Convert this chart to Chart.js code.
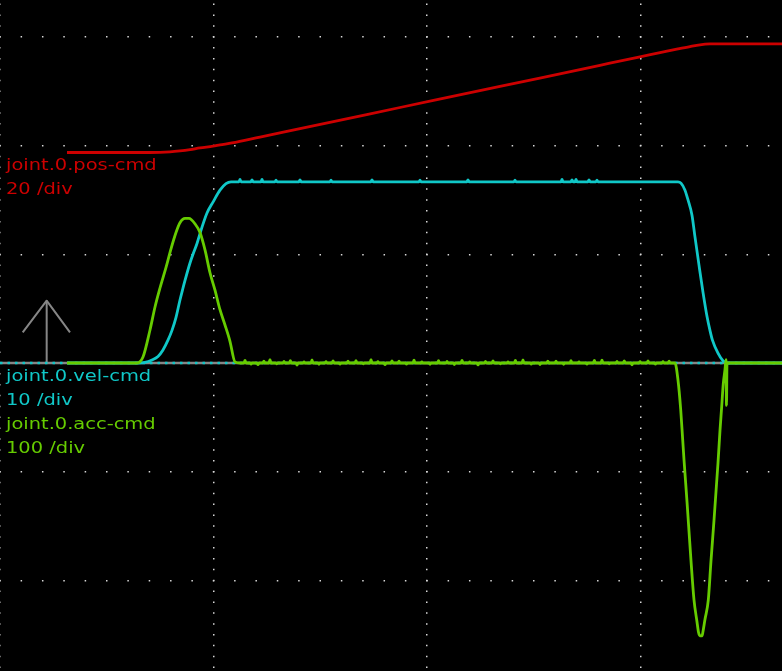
<!DOCTYPE html>
<html><head><meta charset="utf-8">
<script src="https://cdn.jsdelivr.net/npm/chart.js@4.4.1/dist/chart.umd.min.js"></script>
<style>
html,body{margin:0;padding:0;background:#000;}
#wrap{position:relative;width:782px;height:671px;overflow:hidden;background:#000;}
canvas{position:absolute;left:0;top:0;}
.lbl{position:absolute;left:6px;font-family:'DejaVu Sans';font-size:16px;line-height:24.2px;white-space:pre;transform:scaleX(1.215);transform-origin:0 0;}
</style></head><body>
<div id="wrap"><canvas id="c" width="782" height="671"></canvas>
<div class="lbl" style="top:152.5px;color:#cc0000">joint.0.pos-cmd
20 /div</div>
<div class="lbl" style="top:363.5px"><span style="color:#10c8c8">joint.0.vel-cmd
10 /div</span>
<span style="color:#66cc00">joint.0.acc-cmd
100 /div</span></div>
</div>
<script>
// ---- time axis (ms), 500 ms per division ----
const timeTicks = [0, 500, 1000, 1500];
const T_MAX = 1831.4;

// ---- joint.0.pos-cmd (20 /div) ----
const posT = [156.9, 351.3, 398.1, 421.5, 445.0, 468.4, 498.8, 515.2, 543.3, 608.9, 702.6, 936.8, 1171.0, 1405.1, 1498.8, 1545.7, 1587.8, 1615.9, 1639.3, 1662.7, 1702.6, 1831.4];
const posV = [0, 0, 0.11, 0.28, 0.53, 0.86, 1.16, 1.40, 1.76, 2.85, 4.40, 8.28, 12.16, 16.04, 17.59, 18.36, 19.06, 19.50, 19.82, 19.97, 20.0, 20.0];

// ---- joint.0.vel-cmd (10 /div) ----
const velT = [156.9, 323.2, 339.6, 356.0, 370.0, 381.7, 393.4, 402.8, 412.2, 421.5, 428.6, 433.3, 445.0, 452.0, 461.4, 473.1, 484.8, 498.8, 515.2, 529.3, 541.0,
              1587.8, 1594.8, 1604.2, 1611.3, 1620.6, 1627.6, 1637.0, 1646.4, 1655.7, 1662.7, 1668.5, 1681.5, 1693.2, 1702.6, 1831.4];
const velV = [0, 0, 0.05, 0.28, 0.6, 1.2, 2.1, 3.0, 4.2, 5.8, 6.9, 7.6, 9.2, 10.0, 11.0, 12.5, 13.8, 14.8, 15.9, 16.5, 16.67,
              16.67, 16.55, 15.9, 15.0, 13.6, 11.6, 9.0, 6.5, 4.3, 3.0, 2.1, 0.9, 0.2, 0, 0];
const velNoiseT = [562.1, 590.2, 613.6, 646.4, 702.6, 775.2, 871.2, 983.6, 1096.0, 1206.1, 1316.2, 1339.6, 1349.0, 1379.4, 1398.1];
const velNoiseV = [16.88, 16.85, 16.9, 16.82, 16.85, 16.82, 16.85, 16.82, 16.85, 16.82, 16.9, 16.85, 16.9, 16.85, 16.82];

// ---- joint.0.acc-cmd (100 /div) ----
const accT = [156.9, 320.8, 334.9, 351.3, 363.0, 374.7, 388.8, 400.5, 412.2, 421.5, 433.3, 442.6, 456.7, 468.4, 480.1, 491.8, 503.5, 515.2, 526.9, 538.6, 550.3, 562.1,
              1580.8, 1587.8, 1594.2, 1598.9, 1601.9, 1609.0, 1618.3, 1625.3, 1632.3, 1636.0, 1639.3, 1644.1, 1646.4, 1651.0, 1658.8, 1665.1, 1672.1, 1681.5, 1686.2, 1690.2, 1693.9, 1697.9, 1700.2, 1701.4, 1702.6, 1831.4];
const accV = [0, 0, 5.5, 30.4, 51.5, 69, 88, 105, 120, 129, 133, 133, 128, 120, 104, 83, 67, 49, 35, 20, 1, 0,
              0, -15.6, -43, -71, -89, -128, -182, -218, -238, -248, -251, -251, -247, -236, -218, -182, -145, -92, -62, -40, -19, -6, 3, -39, 0, 0];
const accNoiseT = [573.8, 588.0, 604.2, 618.0, 632.3, 648.0, 665.1, 680.0, 695.6, 712.0, 730.7, 747.0, 763.5, 780.0, 796.3, 815.0, 833.7, 851.0, 868.9, 885.0,
                   901.7, 918.0, 934.5, 952.0, 969.6, 988.0, 1007.1, 1027.0, 1046.9, 1064.0, 1082.0, 1100.0, 1119.5, 1137.0, 1154.6, 1172.0, 1189.7, 1207.0,
                   1224.8, 1244.0, 1264.6, 1283.0, 1302.1, 1320.0, 1337.2, 1356.0, 1374.7, 1392.0, 1409.8, 1427.0, 1445.0, 1462.0, 1480.1, 1499.0, 1517.6, 1535.0, 1552.7, 1567.0];
const accNoiseV = [2.5, -1.0, -1.5, 1.8, 3.0, -0.8, 1.5, 2.2, -2.0, 1.0, 2.8, -1.2, 1.2, 2.0, -1.0, 1.6, 2.2, -0.8, 3.0, 1.2,
                   -1.5, 2.0, 1.8, -1.0, 2.6, 1.0, -1.2, 2.2, 1.5, -1.4, 2.4, 1.0, -1.8, 1.4, 2.0, -0.8, 1.0, 2.4,
                   2.8, -1.0, -1.4, 1.8, 1.6, -1.2, 2.2, 1.0, -1.0, 2.4, 2.6, -0.8, 1.4, 2.0, -1.6, 1.2, 2.0, -1.0, 1.2, 1.8];

// ---- baseline and trigger arrow ----
const baseT = [0, 1831.4];
const baseV = [0, 0];
const arrowShaftT = [109.3, 109.3];
const arrowShaftV = [0, 0.573];
const arrowHeadT = [53.2, 109.3, 163.9];
const arrowHeadV = [0.282, 0.573, 0.282];

// ---- vertical divisions / channel settings ----
const DIV_MIN = -2.8335, DIV_MAX = 3.3395;
const posPerDiv = 20, posOffsetDiv = 1.9365;
const velPerDiv = 10, velOffsetDiv = 0;
const accPerDiv = 100, accOffsetDiv = 0;

function pts(T, V) { return T.map((t, i) => ({x: t, y: V[i]})); }
function withSpikes(T, V, sT, sV, base) {
  const p = pts(T, V);
  sT.forEach((t, i) => { p.push({x: t - 2.5, y: base}, {x: t, y: sV[i]}, {x: t + 2.5, y: base}); });
  return p.sort((a, b) => a.x - b.x);
}
function rng(perDiv, off) { return {min: (DIV_MIN - off) * perDiv, max: (DIV_MAX - off) * perDiv}; }

const RED = '#cc0000', CYAN = '#10c8c8', GREEN = '#66cc00', GRAY = '#868686';
const lw = 2.8;

new Chart(document.getElementById('c'), {
  type: 'line',
  data: {
    datasets: [
      {data: withSpikes(accT, accV, accNoiseT, accNoiseV, 0), yAxisID: 'yAcc', borderColor: GREEN, borderWidth: lw, cubicInterpolationMode: 'monotone'},
      {data: pts(posT, posV), yAxisID: 'yPos', borderColor: RED, borderWidth: lw, cubicInterpolationMode: 'monotone'},
      {data: withSpikes(velT, velV, velNoiseT, velNoiseV, 16.67), yAxisID: 'yVel', borderColor: CYAN, borderWidth: lw, cubicInterpolationMode: 'monotone'},
      {data: pts(baseT, baseV), yAxisID: 'yVel', borderColor: CYAN, borderWidth: 2.5, borderDash: [2.5, 5]},
      {data: pts(baseT, baseV), yAxisID: 'yVel', borderColor: GRAY, borderWidth: 2.5},
      {data: pts(arrowShaftT, arrowShaftV), yAxisID: 'y', borderColor: GRAY, borderWidth: 2},
      {data: pts(arrowHeadT, arrowHeadV), yAxisID: 'y', borderColor: GRAY, borderWidth: 2}
    ]
  },
  options: {
    responsive: false, animation: false, events: [],
    layout: {padding: 0, autoPadding: false},
    plugins: {legend: {display: false}, tooltip: {enabled: false}},
    elements: {point: {radius: 0}, line: {tension: 0, fill: false, borderJoinStyle: 'round'}},
    scales: {
      x: {type: 'linear', min: 0, max: T_MAX,
          afterBuildTicks: s => { s.ticks = timeTicks.map(v => ({value: v})); },
          ticks: {display: false}, grid: {drawTicks: false, color: '#d8d8d8', lineWidth: 1.5},
          border: {display: false, dash: [1.5, 9.37], dashOffset: 7.33}},
      y: {type: 'linear', min: DIV_MIN, max: DIV_MAX,
          ticks: {display: false, stepSize: 1, includeBounds: false},
          grid: {drawTicks: false, color: '#d8d8d8', lineWidth: 1.5},
          border: {display: false, dash: [1.5, 19.85], dashOffset: 0.75}},
      yPos: Object.assign({type: 'linear', display: false}, rng(posPerDiv, posOffsetDiv)),
      yVel: Object.assign({type: 'linear', display: false}, rng(velPerDiv, velOffsetDiv)),
      yAcc: Object.assign({type: 'linear', display: false}, rng(accPerDiv, accOffsetDiv))
    }
  }
});
</script>
</body></html>
